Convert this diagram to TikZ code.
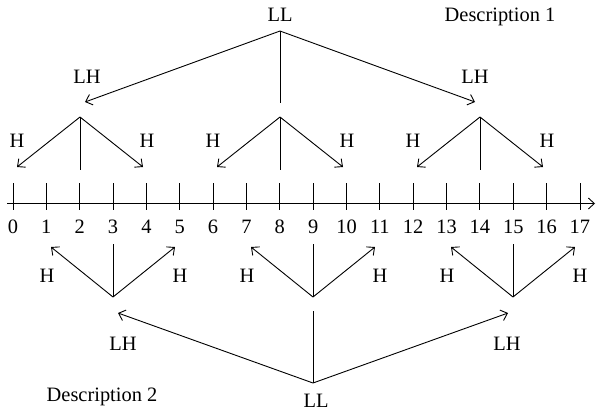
\documentclass[tikz,border=0pt]{standalone}
\usepackage{fontspec}
\setmainfont{Liberation Serif}
\usetikzlibrary{arrows.meta}
\tikzset{
    mylabel/.style = {anchor=base, inner sep=0pt, font=\fontsize{20.5}{24}\selectfont},
}

\begin{document}
\begin{tikzpicture}[
	x=1bp, y=-1bp,
	line width=0.9bp
]
\tikzset{
    edgen/.style = {-},
    edgea/.style = {-{Straight Barb[length=6bp,width=11bp,line width=0.9bp]}},
}
\useasboundingbox (0,0) rectangle (596,416);
% number line
\coordinate (ax0) at (7,203.5);
\coordinate (ax1) at (595,203.5);
\draw[edgea] (ax0) to (ax1);
\foreach \n in {0,...,17}{
  \draw[edgen] ({13+33.35*\n},183) -- ({13+33.35*\n},210);
  \node[mylabel] (n\n) at ({13+33.35*\n},233) {\n};
}
% description 1
\node[mylabel] (d1) at (500,21) {Description 1};
\node[mylabel] (tLL) at (280,21) {LL};
\node[mylabel] (tLHa) at (87,83) {LH};
\node[mylabel] (tLHb) at (475,83) {LH};
\node[mylabel] (tHa) at (17,147) {H};
\node[mylabel] (tHb) at (147,147) {H};
\node[mylabel] (tHc) at (213,147) {H};
\node[mylabel] (tHd) at (347,147) {H};
\node[mylabel] (tHe) at (413,147) {H};
\node[mylabel] (tHf) at (547,147) {H};
\coordinate (u) at (280,31);
\coordinate (u0) at (280,103);
\coordinate (u1) at (85,102);
\coordinate (u2) at (475,102);
\draw[edgen] (u) to (u0);
\draw[edgea] (u) to (u1);
\draw[edgea] (u) to (u2);
\coordinate (a) at (80,117);
\coordinate (a0) at (80,170);
\coordinate (a1) at (17,167);
\coordinate (a2) at (143,167);
\draw[edgen] (a) to (a0);
\draw[edgea] (a) to (a1);
\draw[edgea] (a) to (a2);
\coordinate (b) at (280,117);
\coordinate (b0) at (280,170);
\coordinate (b1) at (217,167);
\coordinate (b2) at (343,167);
\draw[edgen] (b) to (b0);
\draw[edgea] (b) to (b1);
\draw[edgea] (b) to (b2);
\coordinate (c) at (480,117);
\coordinate (c0) at (480,170);
\coordinate (c1) at (417,167);
\coordinate (c2) at (543,167);
\draw[edgen] (c) to (c0);
\draw[edgea] (c) to (c1);
\draw[edgea] (c) to (c2);
% description 2
\node[mylabel] (d2) at (102,401) {Description 2};
\node[mylabel] (bLL) at (316,407) {LL};
\node[mylabel] (bLHa) at (123,350) {LH};
\node[mylabel] (bLHb) at (507,350) {LH};
\node[mylabel] (bHa) at (47,282) {H};
\node[mylabel] (bHb) at (180,282) {H};
\node[mylabel] (bHc) at (247,282) {H};
\node[mylabel] (bHd) at (380,282) {H};
\node[mylabel] (bHe) at (447,282) {H};
\node[mylabel] (bHf) at (580,282) {H};
\coordinate (v) at (313,383);
\coordinate (v0) at (313,311);
\coordinate (v1) at (118,313);
\coordinate (v2) at (508,313);
\draw[edgen] (v) to (v0);
\draw[edgea] (v) to (v1);
\draw[edgea] (v) to (v2);
\coordinate (x) at (113,297);
\coordinate (x0) at (113,244);
\coordinate (x1) at (51,247);
\coordinate (x2) at (175,247);
\draw[edgen] (x) to (x0);
\draw[edgea] (x) to (x1);
\draw[edgea] (x) to (x2);
\coordinate (y) at (313,297);
\coordinate (y0) at (313,244);
\coordinate (y1) at (251,247);
\coordinate (y2) at (375,247);
\draw[edgen] (y) to (y0);
\draw[edgea] (y) to (y1);
\draw[edgea] (y) to (y2);
\coordinate (z) at (513,297);
\coordinate (z0) at (513,244);
\coordinate (z1) at (451,247);
\coordinate (z2) at (575,247);
\draw[edgen] (z) to (z0);
\draw[edgea] (z) to (z1);
\draw[edgea] (z) to (z2);

\end{tikzpicture}
\end{document}
